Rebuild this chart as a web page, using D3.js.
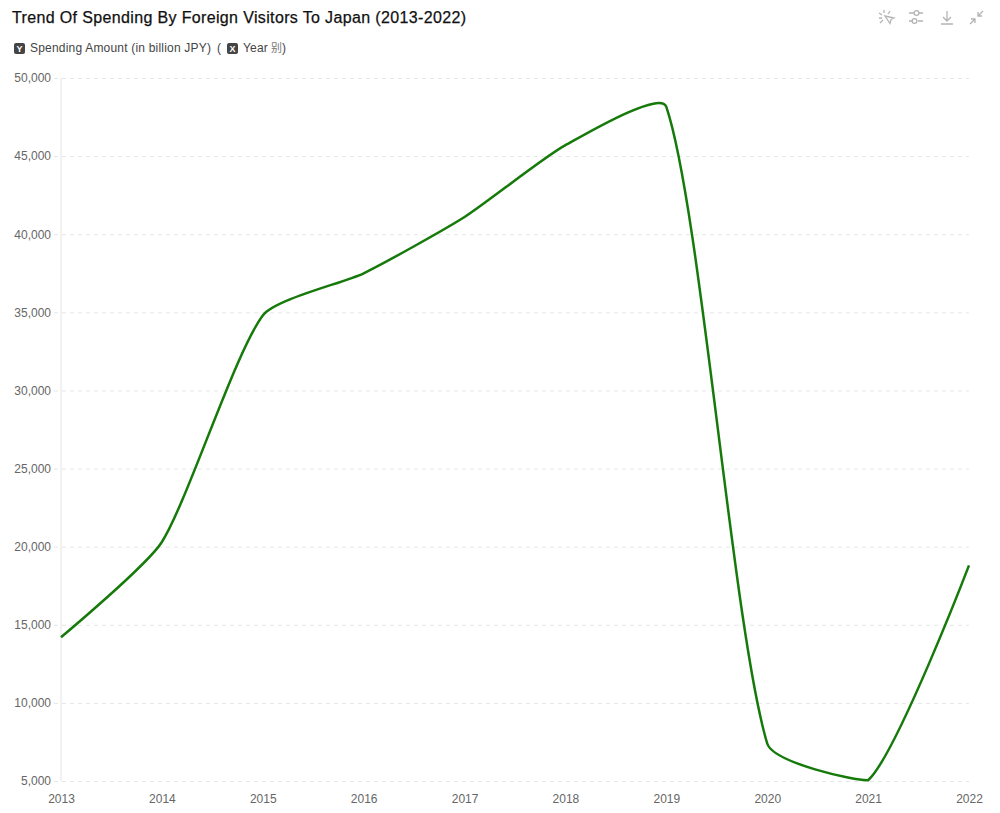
<!DOCTYPE html>
<html>
<head>
<meta charset="utf-8">
<script src="https://cdn.jsdelivr.net/npm/d3@7"></script>
<style>
  html, body { margin: 0; padding: 0; background: #fff; }
  text { font-family: "Liberation Sans", Arial, sans-serif; }
  .tick text { font-size: 12px; fill: #666; }
</style>
</head>
<body>
<div id="chart"></div>
<script>
// values
var years = [2013, 2014, 2015, 2016, 2017, 2018, 2019, 2020, 2021, 2022];
var spending = [14200, 20300, 34800, 37500, 41100, 45700, 48150, 7400, 5050, 18800];
var yTicks = [5000, 10000, 15000, 20000, 25000, 30000, 35000, 40000, 45000, 50000];

var width = 1000, height = 813;
var margin = {top: 78, right: 31, bottom: 32, left: 61};
var len = width - margin.left - margin.right;
var hei = height - margin.top - margin.bottom;

var x = d3.scalePoint().domain(years).range([0, len]);
var y = d3.scaleLinear().domain([5000, 50000]).range([hei, 0]);

// smoothing with control points kept inside the plot area
function clampedSmooth(context) {
  var pts;
  return {
    lineStart: function() { pts = []; },
    point: function(px, py) { pts.push([+px, +py]); },
    areaStart: function() {},
    areaEnd: function() {},
    lineEnd: function() {
      var smoothing = 0.2;
      var clamp = function(px, py) {
        return [Math.max(0, Math.min(len, px)), Math.max(0, Math.min(hei, py))];
      };
      var before = [], after = [];
      pts.forEach(function(p, i) {
        if (i === 0 || i === pts.length - 1) {
          before[i] = p;
          after[i] = p;
          return;
        }
        var prev = pts[i - 1], next = pts[i + 1];
        var vx = next[0] - prev[0], vy = next[1] - prev[1];
        var d0 = Math.hypot(p[0] - prev[0], p[1] - prev[1]);
        var d1 = Math.hypot(p[0] - next[0], p[1] - next[1]);
        var sum = d0 + d1;
        before[i] = clamp(p[0] - vx * d0 / sum * smoothing, p[1] - vy * d0 / sum * smoothing);
        after[i] = clamp(p[0] + vx * d1 / sum * smoothing, p[1] + vy * d1 / sum * smoothing);
      });
      context.moveTo(pts[0][0], pts[0][1]);
      for (var i = 1; i < pts.length; i++) {
        context.bezierCurveTo(after[i - 1][0], after[i - 1][1], before[i][0], before[i][1], pts[i][0], pts[i][1]);
      }
    }
  };
}

var svg = d3.select('#chart').append('svg')
  .attr('width', width)
  .attr('height', height)
  .style('display', 'block');

// title
svg.append('text')
  .attr('x', 12).attr('y', 23)
  .attr('font-size', 16)
  .attr('font-weight', 500)
  .attr('fill', '#111')
  .attr('textLength', 454)
  .attr('stroke', '#111')
  .attr('stroke-width', 0.25)
  .text('Trend Of Spending By Foreign Visitors To Japan (2013-2022)');

// legend line under the title
function badge(x, letter) {
  svg.append('rect')
    .attr('x', x).attr('y', 43)
    .attr('width', 11).attr('height', 11)
    .attr('rx', 2)
    .attr('fill', '#444');
  svg.append('text')
    .attr('x', x + 5.5).attr('y', 52)
    .attr('text-anchor', 'middle')
    .attr('font-size', 9)
    .attr('font-weight', 700)
    .attr('fill', '#fff')
    .text(letter);
}
function caption(x, str) {
  return svg.append('text')
    .attr('x', x).attr('y', 52)
    .attr('font-size', 12)
    .attr('fill', '#444')
    .style('letter-spacing', '0.2px')
    .text(str);
}
badge(14, 'Y');
caption(30, 'Spending Amount (in billion JPY)');
caption(217, '(');
badge(227, 'X');
caption(243, 'Year');
caption(271, '别').style('font-family', '"Noto Sans CJK SC"').attr('font-size', 11).attr('fill', '#777');
caption(282, ')');

// toolbar icons
var icons = svg.append('g')
  .attr('fill', 'none')
  .attr('stroke', '#b4b4b4')
  .attr('stroke-width', 1.3);
icons.append('path').attr('transform', 'translate(879,10)')
  .attr('d', 'M6 6l9 2-3 1.5-1 4zM0 3l3 2M5 0v3M11 1l-2 3M0 8h3M1 13l3-3');
icons.append('path').attr('transform', 'translate(909,11)')
  .attr('d', 'M0 2h5M10 2h4M0 10h4M9 10h5');
icons.append('circle').attr('cx', 916.5).attr('cy', 13).attr('r', 2.4);
icons.append('circle').attr('cx', 914.5).attr('cy', 21).attr('r', 2.4);
icons.append('path').attr('transform', 'translate(941,11)')
  .attr('d', 'M6 0v10M2 6l4 4 4-4M0 13h12');
icons.append('path').attr('transform', 'translate(970,11)')
  .attr('d', 'M13 0L8 5M8 1v4h4M0 13l5-5M1 8h4v4');

var g = svg.append('g')
  .attr('transform', 'translate(' + margin.left + ',' + margin.top + ')');

// y axis with dashed grid lines
var yAxis = g.append('g')
  .call(d3.axisLeft(y).tickValues(yTicks).tickSize(0).tickPadding(10).tickFormat(d3.format(',')));
yAxis.select('.domain').remove();
yAxis.selectAll('.tick line')
  .attr('x1', -7).attr('x2', len)
  .attr('stroke', '#e6e6e6')
  .attr('stroke-dasharray', '4,4');

g.append('line')
  .attr('x1', 0).attr('x2', 0)
  .attr('y1', 0).attr('y2', hei)
  .attr('stroke', '#e4e4e4');

// x axis
var xAxis = g.append('g')
  .attr('transform', 'translate(0,' + hei + ')')
  .call(d3.axisBottom(x).tickSize(0).tickPadding(13));
xAxis.select('.domain').remove();

// the line
var valueline = d3.line()
  .x(function(d, i) { return x(years[i]); })
  .y(function(d) { return y(d); })
  .curve(clampedSmooth);

g.append('path')
  .attr('d', valueline(spending))
  .attr('fill', 'none')
  .attr('stroke', '#167a0a')
  .attr('stroke-width', 2.5)
  .attr('stroke-linejoin', 'round');
</script>
</body>
</html>
